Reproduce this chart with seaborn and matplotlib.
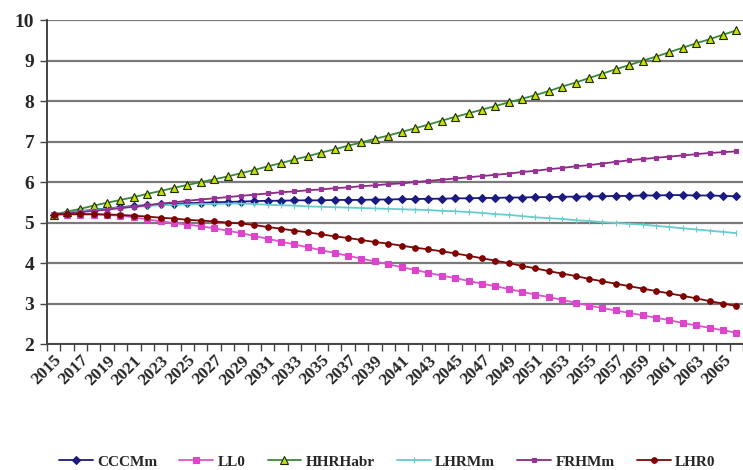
import numpy as np
import pandas as pd
import matplotlib
matplotlib.use('Agg')
import matplotlib.pyplot as plt
import seaborn as sns

# ------------------------------------------------------------------
# Data
# ------------------------------------------------------------------
years = list(range(2015, 2067))

cccmm = [5.20, 5.24, 5.28, 5.32, 5.35, 5.38, 5.41, 5.43, 5.45, 5.46,
         5.48, 5.49, 5.50, 5.51, 5.52, 5.53, 5.54, 5.54, 5.55, 5.55,
         5.55, 5.56, 5.56, 5.56, 5.57, 5.57, 5.58, 5.58, 5.59, 5.59,
         5.60, 5.60, 5.61, 5.61, 5.62, 5.62, 5.63, 5.63, 5.64, 5.64,
         5.65, 5.65, 5.66, 5.66, 5.67, 5.67, 5.68, 5.68, 5.67, 5.67,
         5.66, 5.65]

ll0 = [5.20, 5.20, 5.20, 5.20, 5.19, 5.17, 5.13, 5.08, 5.03, 4.99,
       4.95, 4.91, 4.86, 4.80, 4.74, 4.67, 4.60, 4.53, 4.46, 4.39,
       4.32, 4.25, 4.18, 4.11, 4.04, 3.97, 3.90, 3.83, 3.76, 3.69,
       3.63, 3.56, 3.49, 3.43, 3.36, 3.29, 3.22, 3.16, 3.09, 3.02,
       2.95, 2.89, 2.83, 2.77, 2.71, 2.65, 2.59, 2.52, 2.46, 2.40,
       2.34, 2.28]

hhrhabr = [5.20, 5.27, 5.34, 5.42, 5.49, 5.56, 5.63, 5.71, 5.78, 5.86,
           5.93, 6.00, 6.07, 6.14, 6.22, 6.30, 6.39, 6.47, 6.56, 6.64,
           6.73, 6.81, 6.90, 6.98, 7.07, 7.15, 7.24, 7.33, 7.42, 7.52,
           7.61, 7.70, 7.79, 7.88, 7.97, 8.06, 8.15, 8.25, 8.36, 8.46,
           8.57, 8.68, 8.79, 8.89, 9.00, 9.10, 9.21, 9.32, 9.43, 9.53,
           9.64, 9.75]

lhrmm = [5.20, 5.24, 5.28, 5.31, 5.34, 5.37, 5.39, 5.41, 5.43, 5.44,
         5.45, 5.46, 5.46, 5.47, 5.47, 5.46, 5.44, 5.43, 5.42, 5.40,
         5.39, 5.38, 5.37, 5.36, 5.35, 5.34, 5.33, 5.32, 5.31, 5.29,
         5.28, 5.26, 5.24, 5.21, 5.19, 5.16, 5.13, 5.11, 5.09, 5.06,
         5.04, 5.01, 4.99, 4.97, 4.95, 4.92, 4.89, 4.86, 4.83, 4.80,
         4.77, 4.74]

frhmm = [5.20, 5.23, 5.26, 5.29, 5.32, 5.36, 5.39, 5.43, 5.47, 5.50,
         5.54, 5.57, 5.60, 5.63, 5.66, 5.69, 5.72, 5.75, 5.77, 5.80,
         5.82, 5.85, 5.87, 5.90, 5.92, 5.95, 5.97, 6.00, 6.03, 6.06,
         6.09, 6.12, 6.15, 6.18, 6.21, 6.25, 6.28, 6.32, 6.35, 6.39,
         6.42, 6.46, 6.50, 6.54, 6.57, 6.60, 6.63, 6.66, 6.69, 6.72,
         6.74, 6.76]

lhr0 = [5.20, 5.21, 5.21, 5.21, 5.20, 5.19, 5.17, 5.15, 5.12, 5.10,
        5.07, 5.05, 5.03, 5.00, 4.98, 4.94, 4.89, 4.85, 4.80, 4.76,
        4.71, 4.66, 4.62, 4.57, 4.52, 4.48, 4.43, 4.38, 4.34, 4.29,
        4.24, 4.18, 4.12, 4.06, 4.00, 3.93, 3.87, 3.80, 3.74, 3.68,
        3.61, 3.55, 3.49, 3.43, 3.37, 3.31, 3.25, 3.19, 3.13, 3.06,
        3.00, 2.94]

series_names = ['CCCMm', 'LL0', 'HHRHabr', 'LHRMm', 'FRHMm', 'LHR0']
series_values = [cccmm, ll0, hhrhabr, lhrmm, frhmm, lhr0]
y_ticks = [2, 3, 4, 5, 6, 7, 8, 9, 10]
x_tick_years = list(range(2015, 2066, 2))

# ------------------------------------------------------------------
# Style
# ------------------------------------------------------------------
sns.set_style('white')
plt.rcParams['font.family'] = ['Liberation Serif', 'DejaVu Serif']
plt.rcParams['font.weight'] = 'bold'

styles = {
    'CCCMm':   dict(color='#1a1a80', marker='D', ms=4, mfc='#1a1a80', mec='#1a1a80'),
    'LL0':     dict(color='#dd55cc', marker='s', ms=5, mfc='#dd44cc', mec='#dd44cc'),
    'HHRHabr': dict(color='#3a8a3a', marker='^', ms=5.5, mfc='#c8e000', mec='#1a2a00'),
    'LHRMm':   dict(color='#66cccc', marker='|', ms=5, mfc='#66cccc', mec='#66cccc'),
    'FRHMm':   dict(color='#8a2a80', marker='s', ms=3.2, mfc='#993399', mec='#993399'),
    'LHR0':    dict(color='#7a0a0a', marker='o', ms=4, mfc='#800000', mec='#800000'),
}

df = pd.DataFrame({'year': years})
for name, vals in zip(series_names, series_values):
    df[name] = vals

# ------------------------------------------------------------------
# Plot
# ------------------------------------------------------------------
fig = plt.figure(figsize=(7.43, 4.70), dpi=100)
ax = fig.add_axes([0.063, 0.268, 0.937, 0.689])

for name in series_names:
    st = styles[name]
    sns.lineplot(data=df, x='year', y=name, ax=ax, label=name,
                 color=st['color'], linewidth=1.3,
                 marker=st['marker'], markersize=st['ms'],
                 markerfacecolor=st['mfc'], markeredgecolor=st['mec'],
                 markeredgewidth=0.8)

ax.set_ylim(2, 10)
ax.set_xlim(2014.5, 2066.5)
ax.set_yticks(y_ticks)
ax.set_yticklabels([str(t) for t in y_ticks], fontsize=14, fontweight='bold')
ax.yaxis.grid(True, color='#7a7a7a', linewidth=1.6)
ax.xaxis.grid(False)
ax.set_axisbelow(True)

ax.set_xticks(x_tick_years)
ax.set_xticklabels([str(y) for y in x_tick_years], rotation=45, ha='right',
                   rotation_mode='anchor', fontsize=12.5, fontweight='bold')
ax.set_xticks(np.arange(2014.5, 2067, 1), minor=True)
ax.tick_params(axis='x', which='major', length=0, pad=6)
ax.tick_params(axis='x', which='minor', length=5, width=1, color='#444444',
               direction='out', bottom=True)
ax.tick_params(axis='y', length=5, width=1, color='#444444', direction='out',
               left=True, pad=4)
ax.set_xlabel('')
ax.set_ylabel('')

for side in ['top', 'right']:
    ax.spines[side].set_visible(False)
for side in ['left', 'bottom']:
    ax.spines[side].set_color('#444444')
    ax.spines[side].set_linewidth(1.4)

ax.legend(loc='upper center', bbox_to_anchor=(0.489, -0.30), ncol=6,
          frameon=False, handlelength=2.2, columnspacing=1.45,
          handletextpad=0.3, prop={'weight': 'bold', 'size': 11})

plt.savefig('out.png', dpi=100)
